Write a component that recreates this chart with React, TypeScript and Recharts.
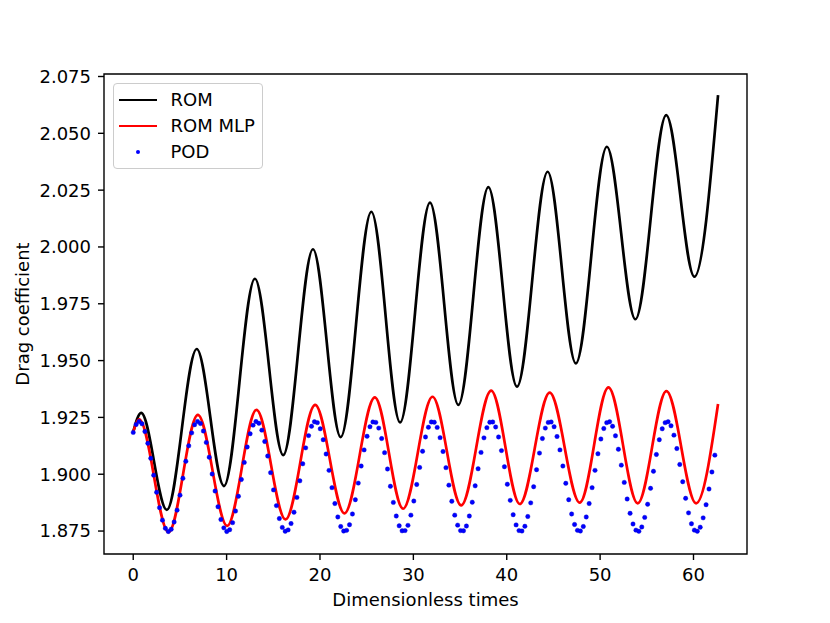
import React from "react";
import {
  ComposedChart,
  Line,
  Scatter,
  XAxis,
  YAxis,
  ReferenceArea,
} from "recharts";

const FONT = "DejaVu Sans";

const xTicks = [0, 10, 20, 30, 40, 50, 60];
const yTicks = [1.875, 1.9, 1.925, 1.95, 1.975, 2.0, 2.025, 2.05, 2.075];
const xDomain: [number, number] = [-3.13, 65.73];
const yDomain: [number, number] = [1.8649, 2.0761];

const romTimes = [
  0, 0.85, 3.6, 6.8, 9.72, 13.03, 16.06, 19.25, 22.22, 25.5, 28.58, 31.78,
  34.82, 38.03, 41.1, 44.38, 47.4, 50.72, 53.78, 57.08, 60.1, 62.63,
];
const romValues = [
  1.9186, 1.927, 1.8843, 1.9551, 1.8948, 1.986, 1.9084, 1.999, 1.9163, 2.0155,
  1.9228, 2.0195, 1.9305, 2.0263, 1.9385, 2.0331, 1.9488, 2.0441, 1.9682,
  2.058, 1.9869, 2.0668,
];

// ROM MLP
const mlpTimes = [
  0, 0.64, 3.78, 6.92, 10.06, 13.2, 16.31, 19.48, 22.62, 25.87, 28.9, 32.05,
  35.12, 38.33, 41.4, 44.6, 47.82, 50.89, 54.03, 57.1, 60.28, 62.63,
];
const mlpValues = [
  1.9186, 1.9242, 1.8745, 1.9261, 1.8773, 1.9283, 1.8801, 1.9305, 1.8828,
  1.9338, 1.8848, 1.9341, 1.8863, 1.9368, 1.8869, 1.9359, 1.8875, 1.9382,
  1.8872, 1.9366, 1.8872, 1.9309,
];

// POD samples, one every podStep time units
const podStep = 0.313;
const podValues = [
  1.9184, 1.9219, 1.9232, 1.9222, 1.9188, 1.9136, 1.907, 1.8996, 1.8921, 1.8853,
  1.8798, 1.8762, 1.8748, 1.8758, 1.879, 1.8842, 1.8908, 1.8982, 1.9057, 1.9125,
  1.9182, 1.9218, 1.9232, 1.9223, 1.919, 1.914, 1.9075, 1.9001, 1.8926, 1.8857,
  1.8801, 1.8764, 1.8748, 1.8756, 1.8787, 1.8838, 1.8903, 1.8977, 1.9052, 1.912,
  1.9178, 1.9216, 1.9232, 1.9224, 1.9194, 1.9144, 1.908, 1.9007, 1.8931, 1.8862,
  1.8805, 1.8766, 1.8749, 1.8755, 1.8783, 1.8833, 1.8898, 1.8971, 1.9046, 1.9116,
  1.917, 1.9211, 1.9231, 1.9227, 1.92, 1.9152, 1.9089, 1.9017, 1.8941, 1.8871,
  1.8812, 1.877, 1.875, 1.8753, 1.8778, 1.8825, 1.8888, 1.8961, 1.9036, 1.9107,
  1.9167, 1.9209, 1.923, 1.9228, 1.9203, 1.9157, 1.9095, 1.9023, 1.8947, 1.8876,
  1.8816, 1.8773, 1.8751, 1.8752, 1.8775, 1.882, 1.8882, 1.8955, 1.903, 1.9101,
  1.9164, 1.9207, 1.923, 1.9229, 1.9206, 1.9161, 1.91, 1.9029, 1.8952, 1.8881,
  1.882, 1.8776, 1.8752, 1.8751, 1.8772, 1.8816, 1.8877, 1.8949, 1.9024, 1.9096,
  1.916, 1.9205, 1.9229, 1.923, 1.9208, 1.9164, 1.9104, 1.9033, 1.8956, 1.8885,
  1.8822, 1.8777, 1.8752, 1.875, 1.8771, 1.8814, 1.8874, 1.8945, 1.902, 1.9093,
  1.9157, 1.9203, 1.9228, 1.923, 1.9209, 1.9166, 1.9107, 1.9036, 1.896, 1.8888,
  1.8825, 1.8779, 1.8753, 1.875, 1.877, 1.8812, 1.8871, 1.8941, 1.9017, 1.909,
  1.9155, 1.9201, 1.9227, 1.9231, 1.9211, 1.9169, 1.911, 1.904, 1.8964, 1.8891,
  1.8828, 1.8781, 1.8754, 1.8749, 1.8768, 1.881, 1.8868, 1.8938, 1.9013, 1.9087,
  1.9152, 1.92, 1.9227, 1.9231, 1.9213, 1.9172, 1.9113, 1.9043, 1.8967, 1.8894,
  1.883, 1.8782, 1.8754, 1.8749, 1.8767, 1.8808, 1.8866, 1.8935, 1.901, 1.9084,
];

const legendItems = [
  { name: "ROM", color: "#000000", kind: "line" },
  { name: "ROM MLP", color: "#ff0000", kind: "line" },
  { name: "POD", color: "#0000ff", kind: "dot" },
];

const romData = romTimes.map((t, i) => ({ t, v: romValues[i] }));
const mlpData = mlpTimes.map((t, i) => ({ t, v: mlpValues[i] }));
const podData = podValues.map((v, i) => ({ t: i * podStep, v }));

const tickStyle = { fontSize: 18, fill: "#000000", fontFamily: FONT };
const tickLineStyle = { stroke: "#000000", strokeWidth: 1.4 };

function PodDot(props: any) {
  return (
    <circle
      cx={props.cx}
      cy={props.cy}
      r={2.2}
      fill="#0000ff"
      stroke="#0000cc"
      strokeWidth={0.4}
    />
  );
}

function Legend() {
  return (
    <div
      style={{
        position: "absolute",
        left: 112.5,
        top: 83,
        width: 148,
        height: 84,
        border: "1px solid #cccccc",
        borderRadius: 4,
        background: "rgba(255,255,255,0.8)",
        fontFamily: FONT,
        fontSize: 18,
      }}
    >
      {legendItems.map((it, i) => (
        <div
          key={it.name}
          style={{
            position: "absolute",
            left: 0,
            top: 3 + i * 26,
            height: 26,
            width: 148,
            lineHeight: "26px",
          }}
        >
          {it.kind === "line" ? (
            <div
              style={{
                position: "absolute",
                left: 5,
                top: 11.6,
                width: 38,
                height: 2.7,
                background: it.color,
              }}
            />
          ) : (
            <div
              style={{
                position: "absolute",
                left: 22,
                top: 10.8,
                width: 4.4,
                height: 4.4,
                borderRadius: "50%",
                background: it.color,
              }}
            />
          )}
          <span style={{ position: "absolute", left: 57, top: 0, color: "#000" }}>
            {it.name}
          </span>
        </div>
      ))}
    </div>
  );
}

export default function App() {
  return (
    <div
      style={{
        position: "absolute",
        left: 0,
        top: 0,
        width: 830,
        height: 623,
        background: "#ffffff",
        fontFamily: FONT,
      }}
    >
      <ComposedChart
        width={830}
        height={623}
        margin={{ top: 74, right: 83, bottom: 0, left: 0 }}
      >
        <XAxis
          type="number"
          dataKey="t"
          domain={xDomain}
          allowDataOverflow
          ticks={xTicks}
          interval={0}
          height={69}
          tick={tickStyle}
          tickLine={tickLineStyle}
          axisLine={false}
          tickSize={6}
          tickMargin={8}
          label={{
            value: "Dimensionless times",
            position: "insideBottom",
            offset: 17,
            fill: "#000000",
            fontSize: 18,
            fontFamily: FONT,
          }}
        />
        <YAxis
          type="number"
          dataKey="v"
          domain={yDomain}
          allowDataOverflow
          ticks={yTicks}
          interval={0}
          width={104}
          tick={tickStyle}
          tickLine={tickLineStyle}
          axisLine={false}
          tickSize={6}
          tickMargin={7}
          tickFormatter={(v: number) => v.toFixed(3)}
          label={{
            content: (p: any) => {
              const vb = p.viewBox || { x: 0, y: 74, width: 104, height: 480 };
              const cx = 29;
              const cy = vb.y + vb.height / 2;
              return (
                <text
                  x={cx}
                  y={cy}
                  transform={`rotate(-90 ${cx} ${cy})`}
                  textAnchor="middle"
                  fontSize={18}
                  fontFamily={FONT}
                  fill="#000000"
                >
                  Drag coefficient
                </text>
              );
            },
          }}
        />
        <ReferenceArea
          x1={xDomain[0]}
          x2={xDomain[1]}
          y1={yDomain[0]}
          y2={yDomain[1]}
          fill="none"
          fillOpacity={0}
          stroke="#000000"
          strokeWidth={1.4}
          ifOverflow="visible"
        />
        <Line
          data={romData}
          dataKey="v"
          type="monotone"
          stroke="#000000"
          strokeWidth={2.7}
          dot={false}
          activeDot={false}
          isAnimationActive={false}
          name="ROM"
        />
        <Line
          data={mlpData}
          dataKey="v"
          type="monotone"
          stroke="#ff0000"
          strokeWidth={2.7}
          dot={false}
          activeDot={false}
          isAnimationActive={false}
          name="ROM MLP"
        />
        <Scatter
          data={podData}
          dataKey="v"
          fill="#0000ff"
          shape={PodDot}
          isAnimationActive={false}
          name="POD"
        />
      </ComposedChart>
      <Legend />
    </div>
  );
}
